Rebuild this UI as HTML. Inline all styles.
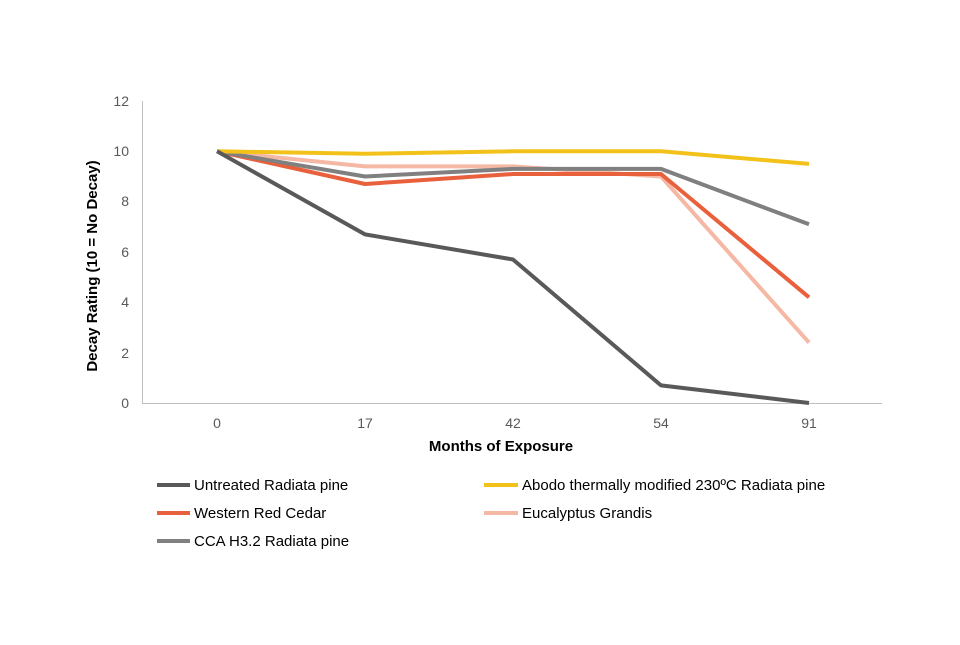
<!DOCTYPE html>
<html><head><meta charset="utf-8"><style>
body{margin:0;background:#fff;}
svg text{font-family:"Liberation Sans",sans-serif;}
</style></head><body>
<svg width="960" height="640" viewBox="0 0 960 640" xmlns="http://www.w3.org/2000/svg">
<rect width="960" height="640" fill="#fff"/>
<g stroke="#bfbfbf" stroke-width="1">
<line x1="142.5" y1="101" x2="142.5" y2="403"/>
<line x1="142" y1="403.5" x2="882" y2="403.5"/>
</g>
<g font-size="14" fill="#595959" text-anchor="end">
<text x="129" y="408">0</text><text x="129" y="358">2</text><text x="129" y="307">4</text>
<text x="129" y="257">6</text><text x="129" y="206">8</text><text x="129" y="156">10</text><text x="129" y="106">12</text>
</g>
<g font-size="14" fill="#595959" text-anchor="middle">
<text x="217" y="428">0</text><text x="365" y="428">17</text><text x="513" y="428">42</text>
<text x="661" y="428">54</text><text x="809" y="428">91</text>
</g>
<text x="501" y="451" font-size="15" font-weight="bold" fill="#000" text-anchor="middle">Months of Exposure</text>
<text transform="translate(97,266) rotate(-90)" font-size="15" font-weight="bold" fill="#000" text-anchor="middle">Decay Rating (10 = No Decay)</text>
<g fill="none" stroke-width="4" stroke-linejoin="round">
<polyline stroke="#f4b8a4" points="217,151.3 365,166.4 513,166.4 661,176.5 809,342.6"/>
<polyline stroke="#e8603c" points="217,151.3 365,184 513,174 661,174 809,297.3"/>
<polyline stroke="#808080" points="217,151.3 365,176.5 513,168.9 661,168.9 809,224.3"/>
<polyline stroke="#f2c21b" points="217,151.3 365,153.8 513,151.3 661,151.3 809,163.9"/>
<polyline stroke="#595959" points="217,151.3 365,234.4 513,259.5 661,385.4 809,403"/>
</g>
<g stroke-width="4">
<line x1="157" y1="485" x2="190" y2="485" stroke="#595959"/>
<line x1="484" y1="485" x2="518" y2="485" stroke="#f2c21b"/>
<line x1="157" y1="513" x2="190" y2="513" stroke="#e8603c"/>
<line x1="484" y1="513" x2="518" y2="513" stroke="#f4b8a4"/>
<line x1="157" y1="541" x2="190" y2="541" stroke="#808080"/>
</g>
<g font-size="15" fill="#000">
<text x="194" y="490">Untreated Radiata pine</text>
<text x="522" y="490">Abodo thermally modified 230ºC Radiata pine</text>
<text x="194" y="518">Western Red Cedar</text>
<text x="522" y="518">Eucalyptus Grandis</text>
<text x="194" y="546">CCA H3.2 Radiata pine</text>
</g>
</svg>
</body></html>
